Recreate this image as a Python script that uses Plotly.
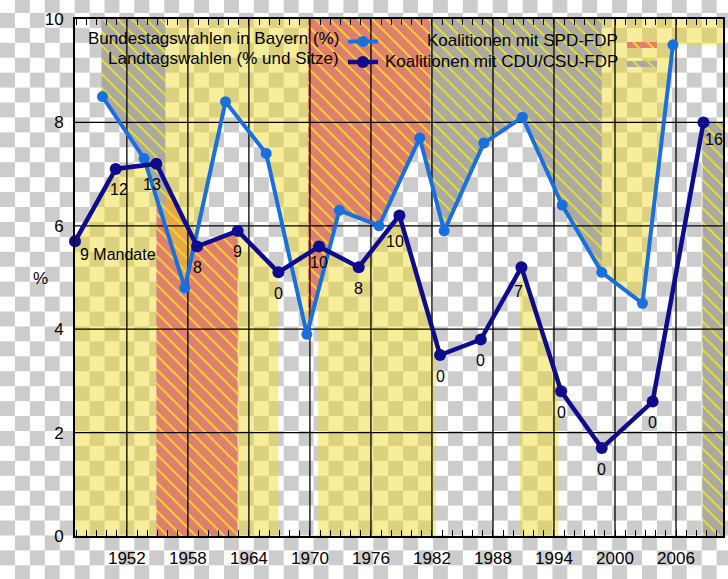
import base64
import numpy as np
import plotly.graph_objects as go

# ---------------- data ----------------
bt_years = [1949.6, 1953.7, 1957.7, 1961.7, 1965.7, 1969.7, 1972.9, 1976.8,
            1980.8, 1983.2, 1987.1, 1990.9, 1994.8, 1998.7, 2002.7, 2005.7]
bt_pct = [8.5, 7.3, 4.8, 8.4, 7.4, 3.9, 6.3, 6.0, 7.7, 5.9, 7.6, 8.1, 6.4, 5.1, 4.5, 9.5]

lt_years = [1946.9, 1950.9, 1954.9, 1958.9, 1962.9, 1966.9, 1970.9, 1974.8,
            1978.8, 1982.8, 1986.8, 1990.8, 1994.7, 1998.7, 2003.7, 2008.7]
lt_pct = [5.7, 7.1, 7.2, 5.6, 5.9, 5.1, 5.6, 5.2, 6.2, 3.5, 3.8, 5.2, 2.8, 1.7, 2.6, 8.0]
lt_seats = [9, 12, 13, 8, 9, 0, 10, 8, 10, 0, 0, 7, 0, 0, 0, 16]

X_RANGE = [1946.9, 2010.62]
Y_RANGE = [0, 10]
x_ticks = [1952, 1958, 1964, 1970, 1976, 1982, 1988, 1994, 2000, 2006]
y_ticks = [0, 2, 4, 6, 8, 10]

# periods shaded above the Bundestag line (federal level)
bund_start = [1949.5, 1955.8, 1969.8, 1981.85, 1998.7]
bund_end = [1955.8, 1969.8, 1981.85, 1998.7, X_RANGE[1]]
bund_kind = ["cdu", "yellow", "spd", "cdu", "yellow"]
# periods shaded below the Landtag line (state level)
land_start = [1946.9, 1954.9, 1962.9, 1970.8, 1990.65, 2008.6]
land_end = [1954.9, 1962.9, 1966.9, 1982.4, 1994.45, X_RANGE[1]]
land_kind = ["yellow", "spd", "yellow", "yellow", "yellow", "cdu"]

legend_labels = ["Bundestagswahlen in Bayern (%)", "Landtagswahlen (% und Sitze)",
                 "Koalitionen mit SPD-FDP", "Koalitionen mit CDU/CSU-FDP"]

# ---------------- styles ----------------
BLUE = "#1a6fdf"
NAVY = "#0c0c8c"
YELLOW_FILL = "rgba(240,214,30,0.45)"
RED_BG, RED_FG = "#df7f70", "#ffe11a"
GREY_BG, GREY_FG = "#aaa9a2", "#f2e81a"
FONT = "Liberation Sans, Arial, sans-serif"
PW, PH = 648, 517   # plot area size in px (margins l=75, t=19)


def fill_style(kind):
    if kind == "yellow":
        return dict(fillcolor=YELLOW_FILL)
    bg, fg = (RED_BG, RED_FG) if kind == "spd" else (GREY_BG, GREY_FG)
    return dict(fillcolor=bg,
                fillpattern=dict(shape="\\", bgcolor=bg, fgcolor=fg,
                                 size=10, solidity=0.17, fillmode="replace"))


def band(x0, x1, lx, ly, edge):
    inner = [x for x in lx if x0 < x < x1]
    xs = [x0] + inner + [x1]
    ys = [float(v) for v in np.interp(xs, lx, ly)]
    return xs + [x1, x0, x0], ys + [edge, edge, ys[0]]


fig = go.Figure()

legend_for_kind = {"spd": "legend3", "cdu": "legend4"}
legend_done = set()
# state-level fills (from 0 up to the Landtag line)
for x0, x1, kind in zip(land_start, land_end, land_kind):
    xs, ys = band(x0, x1, lt_years, lt_pct, Y_RANGE[0])
    show = kind in legend_for_kind and kind not in legend_done
    legend_done.add(kind)
    fig.add_trace(go.Scatter(
        x=xs, y=ys, mode="none", fill="toself", hoverinfo="skip",
        showlegend=show, legend=legend_for_kind.get(kind, "legend"), name=" ",
        **fill_style(kind)))

# federal-level fills (from the Bundestag line up to the top)
for x0, x1, kind in zip(bund_start, bund_end, bund_kind):
    xs, ys = band(x0, x1, bt_years, bt_pct, Y_RANGE[1])
    fig.add_trace(go.Scatter(
        x=xs, y=ys, mode="none", fill="toself", hoverinfo="skip",
        showlegend=False, **fill_style(kind)))

# grid lines (drawn above the fills)
gx, gy = [], []
for t in x_ticks:
    gx += [t, t, None]
    gy += [Y_RANGE[0], Y_RANGE[1], None]
for t in y_ticks[1:-1]:
    gx += [X_RANGE[0], X_RANGE[1], None]
    gy += [t, t, None]
fig.add_trace(go.Scatter(x=gx, y=gy, mode="lines", line=dict(color="black", width=1.3),
                         hoverinfo="skip", showlegend=False))

# data lines
fig.add_trace(go.Scatter(
    x=bt_years, y=bt_pct, mode="lines+markers", name=" ", legend="legend",
    line=dict(color=BLUE, width=4), marker=dict(color=BLUE, size=11),
    cliponaxis=False))
fig.add_trace(go.Scatter(
    x=lt_years, y=lt_pct, mode="lines+markers", name=" ", legend="legend2",
    line=dict(color=NAVY, width=4.5), marker=dict(color=NAVY, size=12),
    cliponaxis=False))

# seat labels
label_xshift = {0: 3, 1: 3, 2: -4, 8: -4, 11: -3, 15: 0}
label_yshift = {0: -13, 6: -16, 8: -26, 11: -24, 15: -17}
label_anchor = {0: "left", 15: "left"}
for i, (x, y, s) in enumerate(zip(lt_years, lt_pct, lt_seats)):
    txt = f"{s} Mandate" if i == 0 else str(s)
    fig.add_annotation(x=x, y=y, text=txt, showarrow=False,
                       xanchor=label_anchor.get(i, "center"), yanchor="middle",
                       xshift=label_xshift.get(i, 0), yshift=label_yshift.get(i, -21),
                       font=dict(family=FONT, size=16, color="black"))

# legend texts (right aligned, symbols come from the native legends)
leg_text_x = [341, 341, 620, 620]
leg_text_y = [39, 59, 41, 61]
for txt, px, py in zip(legend_labels, leg_text_x, leg_text_y):
    fig.add_annotation(xref="paper", yref="paper", x=(px - 75) / PW, y=1 - (py - 19) / PH,
                       text=txt, showarrow=False, xanchor="right", yanchor="middle",
                       font=dict(family=FONT, size=17, color="black"))

fig.add_annotation(xref="paper", yref="paper", x=(40 - 75) / PW, y=1 - (278 - 19) / PH,
                   text="%", showarrow=False, xanchor="center", yanchor="middle",
                   font=dict(family=FONT, size=17, color="black"))

# transparency-style checkerboard backdrop
s = 14.93
svg = (f"<svg xmlns='http://www.w3.org/2000/svg' width='728' height='579' viewBox='0 0 728 579' "
       f"preserveAspectRatio='none'><defs><pattern id='c' x='0' y='-2' width='{2*s}' height='{2*s}' "
       f"patternUnits='userSpaceOnUse'><rect width='{2*s}' height='{2*s}' fill='#ffffff'/>"
       f"<rect x='{s}' y='0' width='{s}' height='{s}' fill='#cccccc'/>"
       f"<rect x='0' y='{s}' width='{s}' height='{s}' fill='#cccccc'/></pattern></defs>"
       f"<rect width='728' height='579' fill='url(#c)'/></svg>")
checker = "data:image/svg+xml;base64," + base64.b64encode(svg.encode()).decode()


def leg(px_left, px_top):
    return dict(x=(px_left - 75) / PW, y=1 - (px_top - 19) / PH, xanchor="left", yanchor="top",
                bgcolor="rgba(0,0,0,0)", font=dict(size=12), tracegroupgap=0,
                itemclick=False, itemdoubleclick=False)


fig.update_layout(
    width=728, height=579,
    margin=dict(l=75, r=5, t=19, b=43, autoexpand=False),
    paper_bgcolor="white", plot_bgcolor="rgba(0,0,0,0)",
    font=dict(family=FONT, size=17, color="black"),
    images=[dict(source=checker, xref="paper", yref="paper",
                 x=-75 / PW, y=1 + 19 / PH, sizex=728 / PW, sizey=579 / PH,
                 xanchor="left", yanchor="top", sizing="stretch", layer="below")],
    showlegend=True,
    hovermode=False,
    legend=leg(343, 27),
    legend2=leg(343, 47.5),
    legend3=leg(622, 30.5),
    legend4=leg(622, 49.5),
    xaxis=dict(range=X_RANGE, tick0=1952, dtick=6, showgrid=False, zeroline=False,
               automargin=False,
               showline=True, linecolor="black", linewidth=2, mirror="ticks",
               ticks="inside", ticklen=6, tickcolor="black", tickwidth=1.2,
               ticklabelstandoff=6,
               minor=dict(dtick=1, tick0=1947, ticks="inside", ticklen=6,
                          tickcolor="black", tickwidth=1.2, showgrid=False),
               tickfont=dict(family=FONT, size=17, color="black")),
    yaxis=dict(range=Y_RANGE, tick0=0, dtick=2, showgrid=False, zeroline=False,
               automargin=False,
               showline=True, linecolor="black", linewidth=2, mirror=True,
               ticks="", ticklabelstandoff=6,
               tickfont=dict(family=FONT, size=17, color="black")),
)

fig.write_html("out.html", config={"displayModeBar": False, "staticPlot": False},
               post_script="document.body.style.margin='0px';")
